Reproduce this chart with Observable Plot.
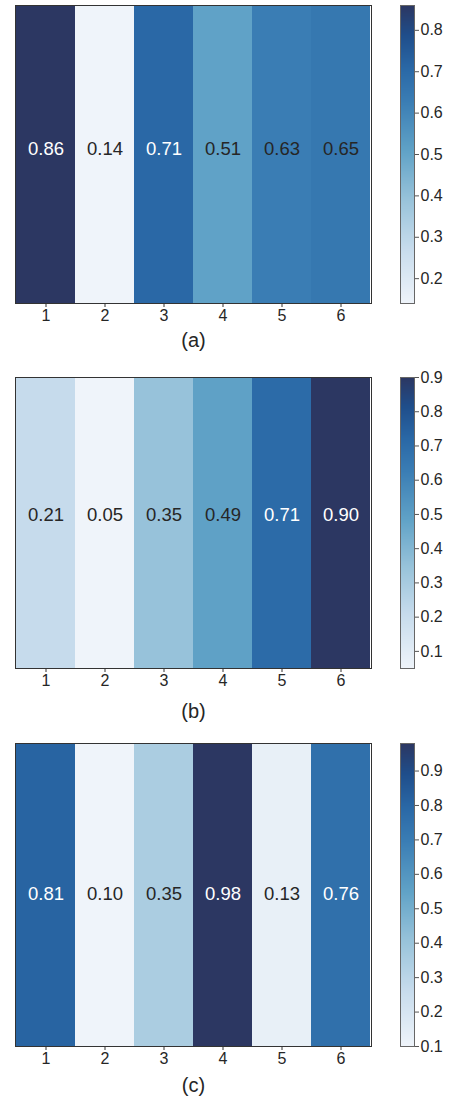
<!DOCTYPE html>
<html>
<head>
<meta charset="utf-8">
<script src="https://cdn.jsdelivr.net/npm/d3@7"></script>
<script src="https://cdn.jsdelivr.net/npm/@observablehq/plot@0.6"></script>
<style>
  html, body { margin: 0; padding: 0; background: #fff; }
  #root { position: relative; width: 450px; height: 1097px; font-family: "Liberation Sans", Arial, sans-serif; }
  #root svg { position: absolute; overflow: visible; background: transparent; }
</style>
</head>
<body>
<div id="root"></div>
<script>
const columns = [1, 2, 3, 4, 5, 6];
const valuesA = [0.86, 0.14, 0.71, 0.51, 0.63, 0.65];
const valuesB = [0.21, 0.05, 0.35, 0.49, 0.71, 0.90];
const valuesC = [0.81, 0.10, 0.35, 0.98, 0.13, 0.76];
const ticksA = [0.2, 0.3, 0.4, 0.5, 0.6, 0.7, 0.8];
const ticksB = [0.1, 0.2, 0.3, 0.4, 0.5, 0.6, 0.7, 0.8, 0.9];
const ticksC = [0.1, 0.2, 0.3, 0.4, 0.5, 0.6, 0.7, 0.8, 0.9];
const captions = ["(a)", "(b)", "(c)"];

const stopPos = [0, 0.19, 0.35, 0.51, 0.68, 0.79, 0.9, 1];
const stopCol = ["#eff4fa", "#c6dbec", "#98c3da", "#61a3c7", "#3a7db4", "#2a68a6", "#1f4e8b", "#2c3762"];
const cmapScale = d3.scaleLinear().domain(stopPos).range(stopCol).interpolate(d3.interpolateRgb);
const cmap = (t) => cmapScale(t);

const panels = [
  {values: valuesA, ticks: ticksA, caption: captions[0], top: 5, bottom: 303, capDy: 37, textDy: -5},
  {values: valuesB, ticks: ticksB, caption: captions[1], top: 377, bottom: 668, capDy: 43, textDy: -8},
  {values: valuesC, ticks: ticksC, caption: captions[2], top: 743, bottom: 1046, capDy: 39, textDy: -1}
];

const root = document.getElementById("root");
const fmt2 = d3.format(".2f");
const fmt1 = d3.format(".1f");
const textDark = "#262626";

for (const p of panels) {
  const vmin = d3.min(p.values), vmax = d3.max(p.values);
  const rows = columns.map((c, i) => ({col: c, v: p.values[i]}));
  const norm = (v) => (v - vmin) / (vmax - vmin);
  const mt = 5, mb = 55;
  const h = (p.bottom - p.top) + mt + mb;
  const colorOpt = {type: "linear", domain: [vmin, vmax], interpolate: cmap};

  const heat = Plot.plot({
    width: 380, height: h,
    marginLeft: 15, marginRight: 9, marginTop: mt, marginBottom: mb,
    style: {fontFamily: "Liberation Sans, Arial, sans-serif", fontSize: "16px", color: textDark, background: "transparent"},
    x: {type: "band", domain: columns, padding: 0, label: null},
    color: colorOpt,
    marks: [
      Plot.cell(rows, {x: "col", fill: "v"}),
      Plot.text(rows, {filter: d => norm(d.v) > 0.73, x: "col", text: d => fmt2(d.v), fill: "white", fontSize: 18.5, dy: p.textDy}),
      Plot.text(rows, {filter: d => norm(d.v) <= 0.73, x: "col", text: d => fmt2(d.v), fill: textDark, fontSize: 18.5, dy: p.textDy}),
      Plot.axisX({tickSize: 4, tickPadding: 2, fontSize: 16, stroke: "#333", label: null}),
      Plot.frame({stroke: "#333", strokeWidth: 1}),
      Plot.text([p.caption], {text: d => d, frameAnchor: "bottom", dy: p.capDy, fontSize: 20, fill: textDark, lineAnchor: "middle"})
    ]
  });
  heat.style.left = "0px";
  heat.style.top = (p.top - mt) + "px";
  root.appendChild(heat);

  const bar = Plot.plot({
    width: 64, height: h,
    marginLeft: 14, marginRight: 36, marginTop: mt, marginBottom: mb,
    style: {fontFamily: "Liberation Sans, Arial, sans-serif", fontSize: "16px", color: textDark, background: "transparent"},
    x: {domain: [0, 1], axis: null},
    y: {domain: [vmin, vmax], axis: null},
    color: colorOpt,
    marks: [
      Plot.raster({fill: (x, y) => y, x1: 0, x2: 1, y1: vmin, y2: vmax}),
      Plot.axisY(p.ticks, {anchor: "right", tickSize: 4, tickPadding: 2, tickFormat: fmt1, fontSize: 16, stroke: "#555", label: null}),
      Plot.frame({stroke: "#666", strokeWidth: 1})
    ]
  });
  bar.style.left = "386px";
  bar.style.top = (p.top - mt) + "px";
  root.appendChild(bar);
}
</script>
</body>
</html>
